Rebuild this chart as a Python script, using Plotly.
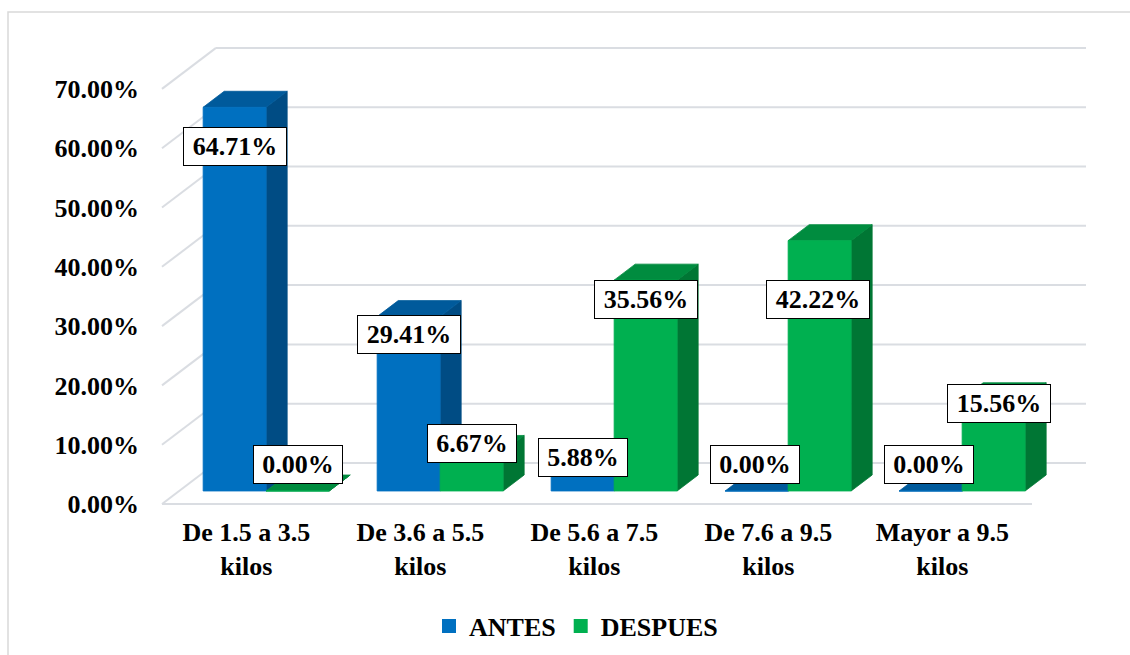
import plotly.graph_objects as go

# ---- data -------------------------------------------------------------
categorias = [
    "De 1.5 a 3.5<br>kilos",
    "De 3.6 a 5.5<br>kilos",
    "De 5.6 a 7.5<br>kilos",
    "De 7.6 a 9.5<br>kilos",
    "Mayor a 9.5<br>kilos",
]
antes = [64.71, 29.41, 5.88, 0.00, 0.00]
despues = [0.00, 6.67, 35.56, 42.22, 15.56]
y_ticks = [0, 10, 20, 30, 40, 50, 60, 70]
y_tick_text = [f"{v:.2f}%" for v in y_ticks]

# manual nudges (px) of the value boxes relative to each bar's front top
antes_label_shift = [(0, -39), (0, -18), (0, -1.5), (-1.5, 27), (-1.5, 27)]
despues_label_shift = [(0, 27), (0, 7.5), (0, -19), (-1.5, -59), (5, -5)]

# ---- styling / geometry ----------------------------------------------
FONT = "Liberation Serif"
PX_X = 174.0          # px per category
PX_Y = 5.93           # px per percentage point
DEPTH_X = 54 / PX_X   # oblique depth vector of the floor, axis units
DEPTH_Y = 41 / PX_Y
BAR_FRONT = 0.317     # depth fraction of bar front face
BAR_BACK = 0.707      # depth fraction of bar back face
BAR_W = 0.362         # width of one bar (category units)
GRID = "#dadde2"

series = [
    dict(name="ANTES", values=antes, front="#0070C0", top="#005A9B", side="#004C84",
         shifts=antes_label_shift),
    dict(name="DESPUES", values=despues, front="#00B050", top="#008C3F", side="#007634",
         shifts=despues_label_shift),
]

fig = go.Figure()

# back wall grid lines, left wall diagonals, floor front edge
gx, gy = [], []
for v in y_ticks:
    gx += [DEPTH_X, len(categorias) + DEPTH_X, None]
    gy += [v + DEPTH_Y, v + DEPTH_Y, None]
    gx += [0, DEPTH_X, None]
    gy += [v, v + DEPTH_Y, None]
gx += [0, len(categorias), None]
gy += [0, 0, None]
fig.add_trace(go.Scatter(x=gx, y=gy, mode="lines", line=dict(color=GRID, width=2),
                         hoverinfo="skip", showlegend=False))

fx, fy = BAR_FRONT * DEPTH_X, BAR_FRONT * DEPTH_Y
bx, by = BAR_BACK * DEPTH_X, BAR_BACK * DEPTH_Y

annotations = []
for s, ser in enumerate(series):
    side_x, side_y, top_x, top_y, fr_x, fr_y = [], [], [], [], [], []
    for i, v in enumerate(ser["values"]):
        x0 = i + 0.5 - BAR_W + s * BAR_W
        x1 = x0 + BAR_W
        side_x += [x1 + fx, x1 + bx, x1 + bx, x1 + fx, x1 + fx, None]
        side_y += [fy, by, v + by, v + fy, fy, None]
        top_x += [x0 + fx, x1 + fx, x1 + bx, x0 + bx, x0 + fx, None]
        top_y += [v + fy, v + fy, v + by, v + by, v + fy, None]
        fr_x += [x0 + fx, x1 + fx, x1 + fx, x0 + fx, x0 + fx, None]
        fr_y += [fy, fy, v + fy, v + fy, fy, None]

        txt = f"{v:.2f}%"
        dx, dy = ser["shifts"][i]
        annotations.append(dict(
            x=(x0 + x1) / 2 + fx, y=v + fy, xref="x", yref="y",
            text=txt, showarrow=False, xshift=dx, yshift=dy,
            font=dict(family=FONT, size=26, color="black", weight="bold"),
            bgcolor="white", bordercolor="black", borderwidth=1, borderpad=1,
            width=(100 if len(txt) > 5 else 86), height=35,
            xanchor="center", yanchor="middle",
        ))
    for px_, py_, col in [(side_x, side_y, ser["side"]), (top_x, top_y, ser["top"]),
                          (fr_x, fr_y, ser["front"])]:
        fig.add_trace(go.Scatter(x=px_, y=py_, mode="lines", fill="toself",
                                 fillcolor=col, line=dict(color=col, width=0.8),
                                 hoverinfo="skip", showlegend=False))

# legend entries
for ser in series:
    fig.add_trace(go.Scatter(x=[None], y=[None], mode="markers", name=ser["name"],
                             marker=dict(symbol="square", size=14, color=ser["front"])))

ML, MR, MT, MB = 152, 36, 30, 145
W, H = 1130, 655
plot_w = W - ML - MR
plot_h = H - MT - MB
x_lo = (ML - 162) / PX_X
x_hi = x_lo + plot_w / PX_X
y_lo = -(510 - 504) / PX_Y
y_hi = y_lo + plot_h / PX_Y

def px_to_paper_x(px):
    return (px - ML) / plot_w

def px_to_paper_y(py):
    return (H - MB - py) / plot_h

fig.update_layout(
    width=W, height=H,
    margin=dict(l=ML, r=MR, t=MT, b=MB, autoexpand=False),
    paper_bgcolor="white", plot_bgcolor="rgba(0,0,0,0)",
    template="none",
    font=dict(family=FONT, size=26, color="black", weight="bold"),
    xaxis=dict(range=[x_lo, x_hi], tickvals=[i + 0.485 for i in range(len(categorias))],
               ticktext=categorias, showgrid=False, zeroline=False, showline=False,
               ticks="", automargin=False, ticklabelstandoff=4,
               tickfont=dict(family=FONT, size=26, color="black", weight="bold")),
    yaxis=dict(range=[y_lo, y_hi], tickvals=y_ticks, ticktext=y_tick_text,
               showgrid=False, zeroline=False, showline=False, ticks="",
               automargin=False, ticklabelstandoff=12,
               tickfont=dict(family=FONT, size=26, color="black", weight="bold")),
    legend=dict(orientation="h", x=px_to_paper_x(576), xanchor="center",
                y=px_to_paper_y(626), yanchor="middle", itemwidth=30,
                bgcolor="rgba(0,0,0,0)",
                font=dict(family=FONT, size=26, color="black", weight="bold")),
    annotations=annotations,
    shapes=[dict(type="rect", xref="paper", yref="paper",
                 x0=px_to_paper_x(8), x1=px_to_paper_x(1140),
                 y0=px_to_paper_y(670), y1=px_to_paper_y(12),
                 line=dict(color="#d9d9d9", width=1.5), fillcolor="rgba(0,0,0,0)",
                 layer="below")],
)

fig.write_html("out.html")
